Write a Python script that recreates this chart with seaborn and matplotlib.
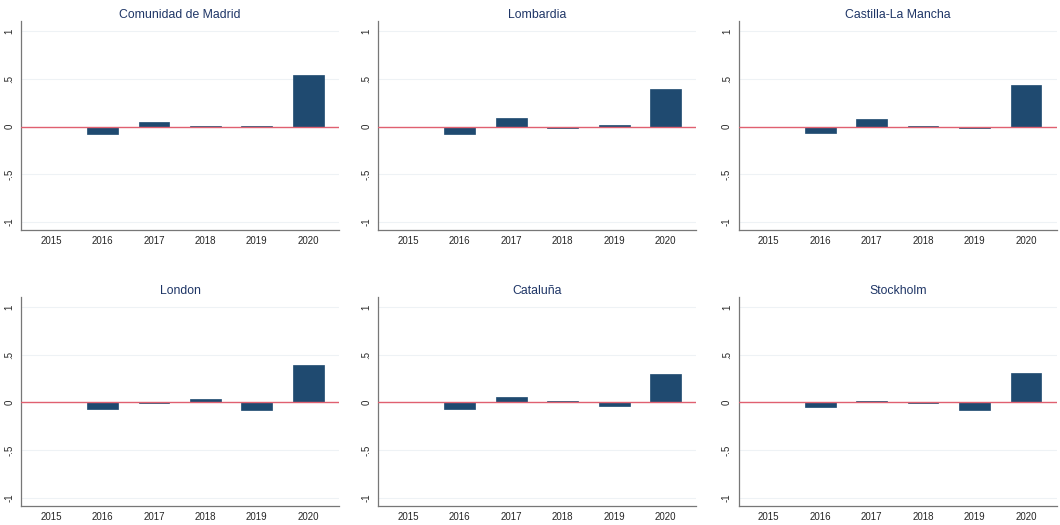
import pandas as pd
import seaborn as sns
import matplotlib.pyplot as plt

# values (2015 is the base year, so 0)
years = ['2015', '2016', '2017', '2018', '2019', '2020']
regions = ['Comunidad de Madrid', 'Lombardia', 'Castilla-La Mancha',
           'London', 'Cataluña', 'Stockholm']
madrid = [0.0, -0.08, 0.05, 0.003, 0.005, 0.54]
lombardia = [0.0, -0.08, 0.09, -0.015, 0.02, 0.40]
castilla = [0.0, -0.07, 0.08, 0.004, -0.01, 0.44]
london = [0.0, -0.07, -0.003, 0.03, -0.08, 0.39]
cataluna = [0.0, -0.07, 0.06, 0.01, -0.04, 0.30]
stockholm = [0.0, -0.05, 0.015, -0.005, -0.08, 0.31]
yticks = [-1, -0.5, 0, 0.5, 1]
ytick_labels = ['-1', '-.5', '0', '.5', '1']

values = [madrid, lombardia, castilla, london, cataluna, stockholm]
df = pd.DataFrame({
    'region': [r for r in regions for _ in years],
    'year': years * len(regions),
    'value': [v for vals in values for v in vals],
})

sns.set_style('white')
plt.rcParams['font.family'] = ['Liberation Sans', 'DejaVu Sans']

navy = '#1f4a70'
fig = plt.figure(figsize=(10.6, 5.25), dpi=100)

lefts = [0.020, 0.357, 0.697]
bottoms = [0.561, 0.036]
for i, reg in enumerate(regions):
    row, col = divmod(i, 3)
    ax = fig.add_axes([lefts[col], bottoms[row], 0.300, 0.399])
    sub = df[df.region == reg]
    ax.set_yticks(yticks)
    ax.yaxis.grid(True, color='#eef2f5', linewidth=0.8)
    ax.set_axisbelow(True)
    sns.barplot(data=sub, x='year', y='value', order=years, color=navy,
                width=0.6, saturation=1, edgecolor=navy, linewidth=0.5, ax=ax)
    ax.axhline(0, color='#e06070', linewidth=1.0, zorder=3)
    ax.set_ylim(-1.09, 1.11)
    ax.set_xlim(-0.58, 5.6)
    ax.set_yticks(yticks)
    ax.set_yticklabels(ytick_labels, rotation=90, va='center', fontsize=7)
    ax.tick_params(axis='y', length=3, width=0.6, color='#666666', pad=2)
    ax.tick_params(axis='x', length=0, labelsize=7, pad=4)
    ax.set_xlabel('')
    ax.set_ylabel('')
    ax.set_title(reg, fontsize=8.8, color='#1e3566', pad=2)
    for s in ['top', 'right']:
        ax.spines[s].set_visible(False)
    for s in ['left', 'bottom']:
        ax.spines[s].set_color('#777777')
        ax.spines[s].set_linewidth(0.9)

fig.savefig('out.png', dpi=100, facecolor='white')
